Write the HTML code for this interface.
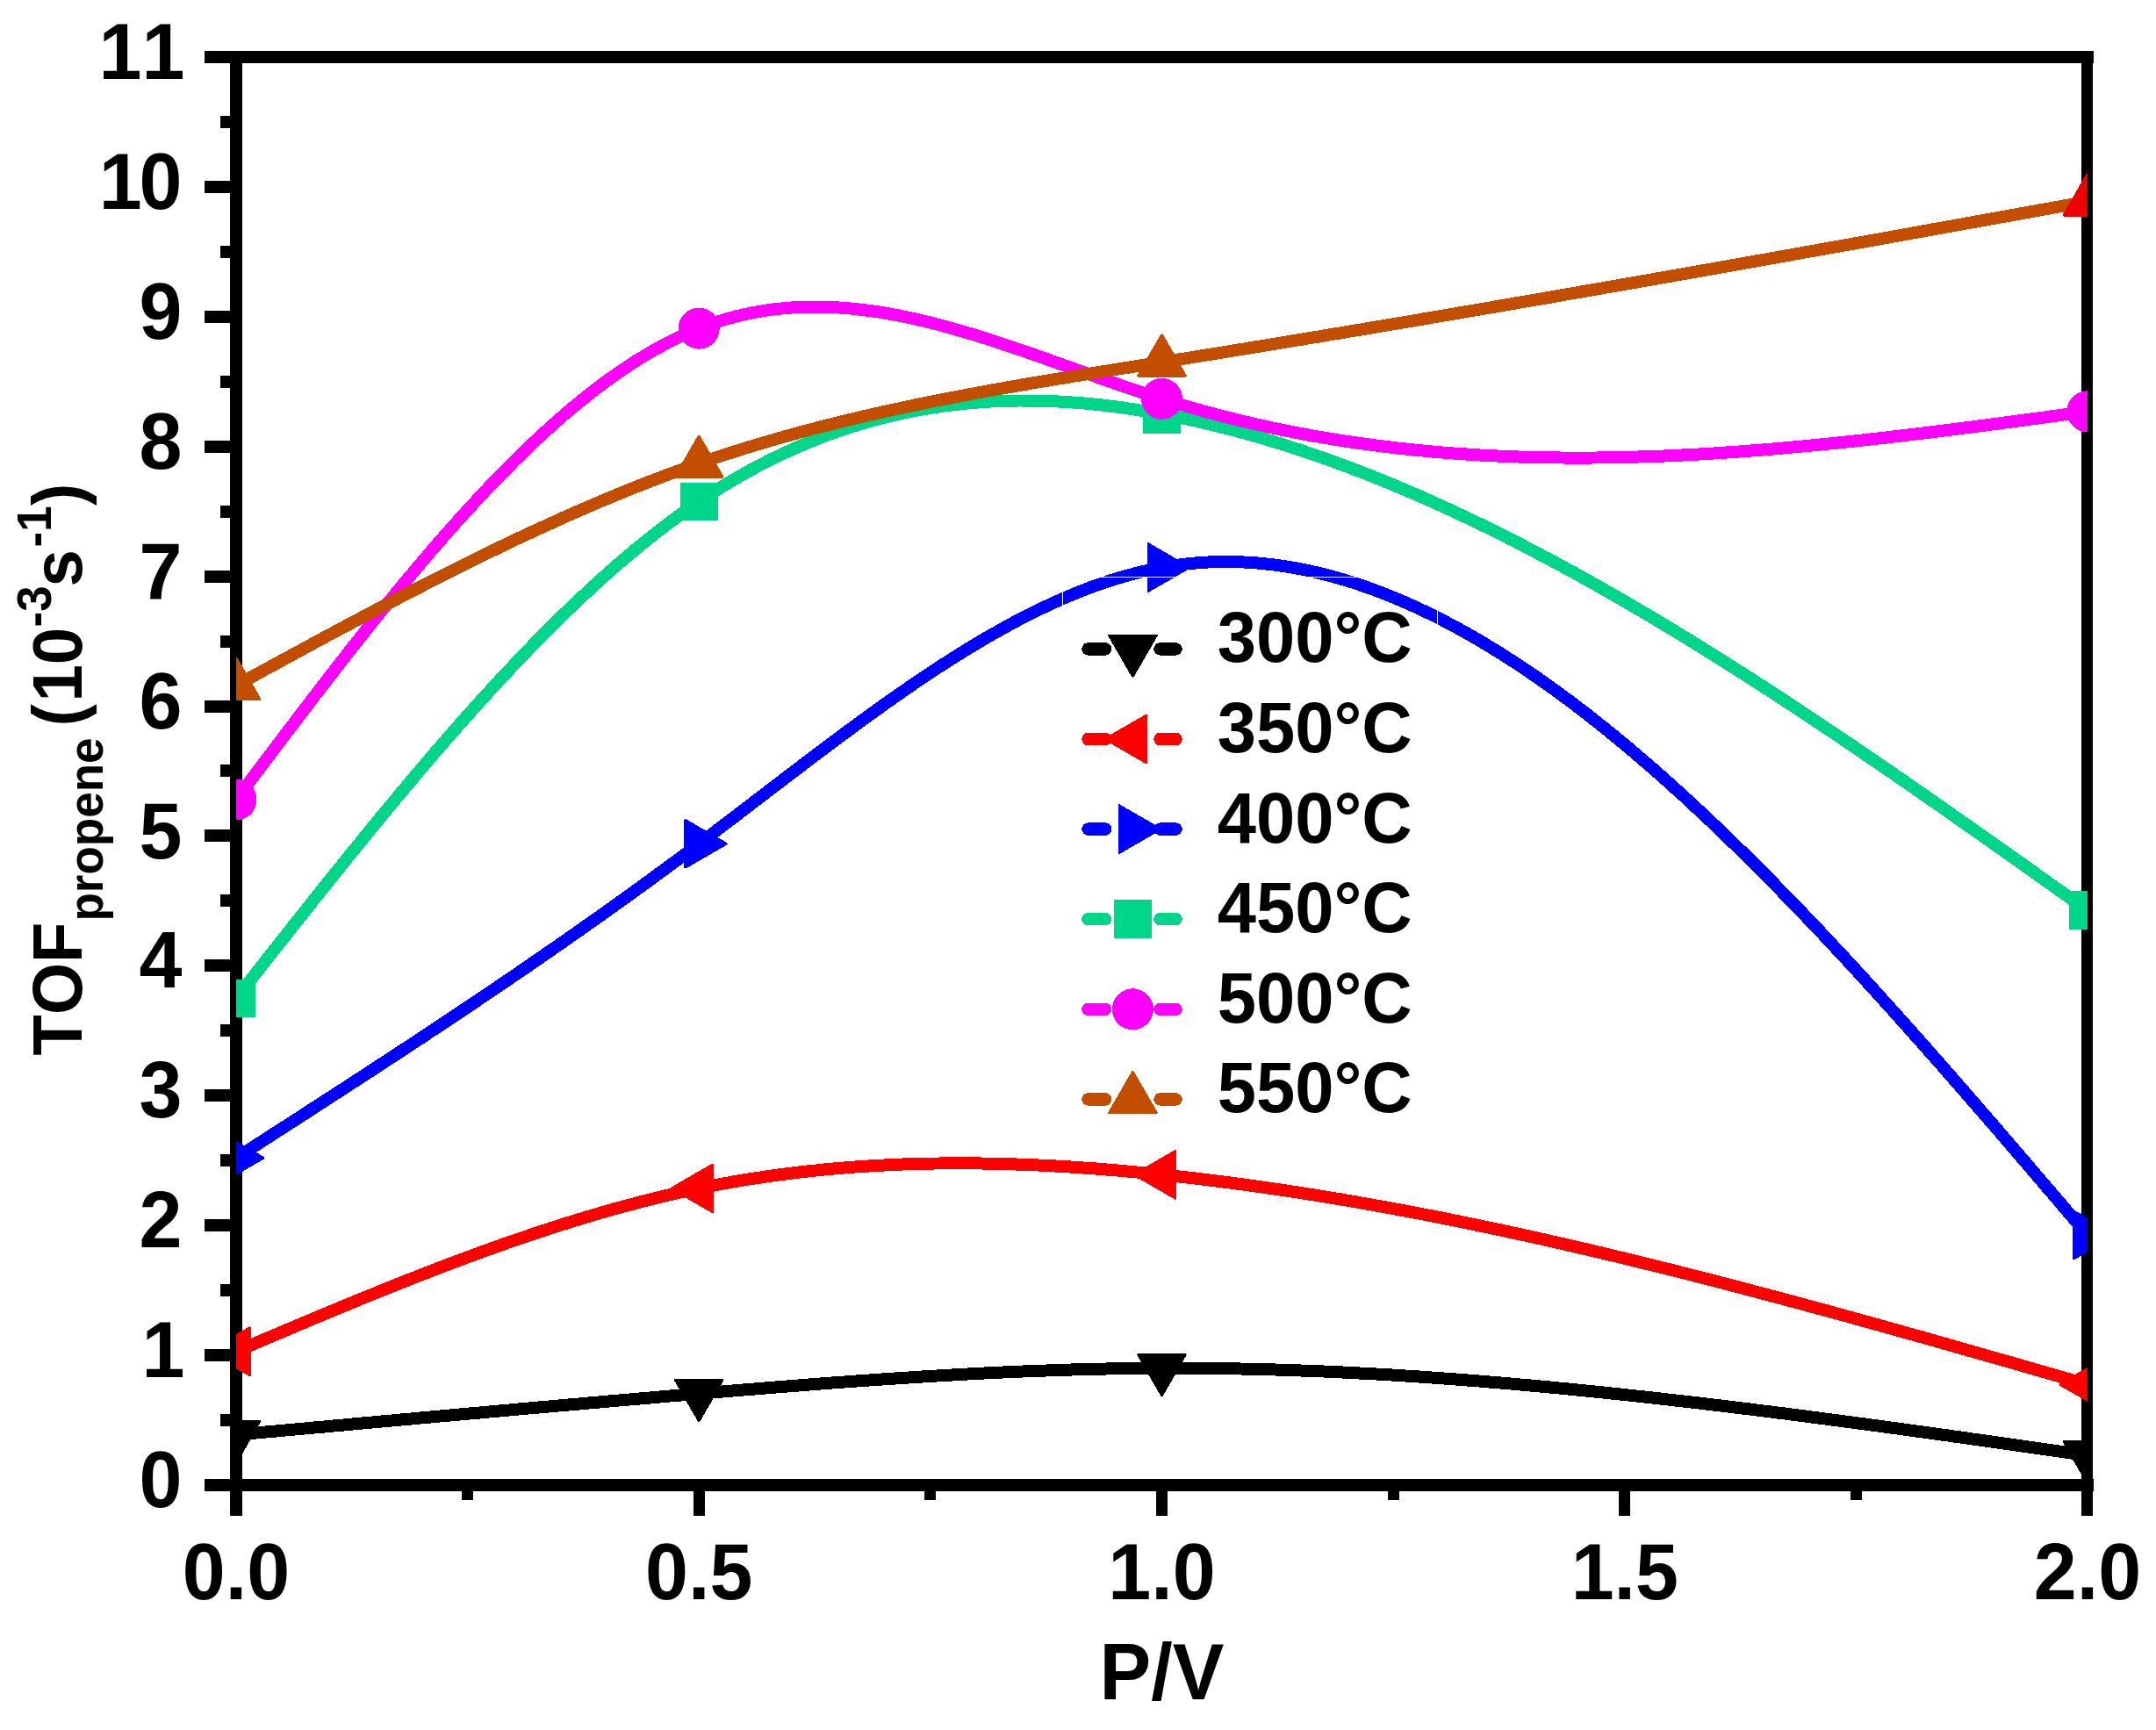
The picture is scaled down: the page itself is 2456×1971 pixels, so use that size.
<!DOCTYPE html>
<html><head><meta charset="utf-8"><title>TOF propene vs P/V</title>
<style>html,body{margin:0;padding:0;background:#fff;overflow:hidden}svg{display:block}text{font-family:"Liberation Sans",sans-serif;font-weight:bold;fill:#000;font-kerning:none}</style></head><body>
<svg width="2456" height="1971" viewBox="0 0 2456 1971">
<rect width="2456" height="1971" fill="#fff"/>
<defs><clipPath id="plot"><rect x="269" y="65" width="2109" height="1627"/></clipPath></defs>
<g fill="#000" shape-rendering="crispEdges">
<rect x="262" y="58" width="14" height="1669"/>
<rect x="2371" y="58" width="13" height="1669"/>
<rect x="233" y="58" width="2152" height="14"/>
<rect x="233" y="1685" width="2152" height="14"/>
<rect x="233" y="1685" width="30" height="14"/>
<rect x="251" y="1611" width="12" height="14"/>
<rect x="233" y="1537" width="30" height="14"/>
<rect x="251" y="1463" width="12" height="14"/>
<rect x="233" y="1389" width="30" height="14"/>
<rect x="251" y="1315" width="12" height="14"/>
<rect x="233" y="1241" width="30" height="14"/>
<rect x="251" y="1167" width="12" height="14"/>
<rect x="233" y="1093" width="30" height="14"/>
<rect x="251" y="1019" width="12" height="14"/>
<rect x="233" y="945" width="30" height="14"/>
<rect x="251" y="871" width="12" height="14"/>
<rect x="233" y="798" width="30" height="14"/>
<rect x="251" y="724" width="12" height="14"/>
<rect x="233" y="650" width="30" height="14"/>
<rect x="251" y="576" width="12" height="14"/>
<rect x="233" y="502" width="30" height="14"/>
<rect x="251" y="428" width="12" height="14"/>
<rect x="233" y="354" width="30" height="14"/>
<rect x="251" y="280" width="12" height="14"/>
<rect x="233" y="206" width="30" height="14"/>
<rect x="251" y="132" width="12" height="14"/>
<rect x="233" y="58" width="30" height="14"/>
<rect x="262" y="1698" width="13" height="29"/>
<rect x="526" y="1698" width="13" height="11"/>
<rect x="790" y="1698" width="13" height="29"/>
<rect x="1053" y="1698" width="13" height="11"/>
<rect x="1317" y="1698" width="13" height="29"/>
<rect x="1581" y="1698" width="13" height="11"/>
<rect x="1844" y="1698" width="13" height="29"/>
<rect x="2108" y="1698" width="13" height="11"/>
<rect x="2371" y="1698" width="13" height="29"/>
</g>
<g clip-path="url(#plot)" shape-rendering="crispEdges">
<path d="M269.0,1634.6 L274.3,1634.1 L279.5,1633.6 L284.8,1633.2 L290.1,1632.7 L295.4,1632.2 L300.6,1631.7 L305.9,1631.2 L311.2,1630.8 L316.5,1630.3 L321.7,1629.8 L327.0,1629.3 L332.3,1628.8 L337.5,1628.4 L342.8,1627.9 L348.1,1627.4 L353.4,1626.9 L358.6,1626.4 L363.9,1626.0 L369.2,1625.5 L374.4,1625.0 L379.7,1624.5 L385.0,1624.0 L390.3,1623.6 L395.5,1623.1 L400.8,1622.6 L406.1,1622.1 L411.4,1621.6 L416.6,1621.2 L421.9,1620.7 L427.2,1620.2 L432.4,1619.7 L437.7,1619.2 L443.0,1618.8 L448.3,1618.3 L453.5,1617.8 L458.8,1617.3 L464.1,1616.9 L469.4,1616.4 L474.6,1615.9 L479.9,1615.4 L485.2,1615.0 L490.4,1614.5 L495.7,1614.0 L501.0,1613.5 L506.3,1613.1 L511.5,1612.6 L516.8,1612.1 L522.1,1611.6 L527.4,1611.2 L532.6,1610.7 L537.9,1610.2 L543.2,1609.8 L548.4,1609.3 L553.7,1608.8 L559.0,1608.3 L564.3,1607.9 L569.5,1607.4 L574.8,1606.9 L580.1,1606.5 L585.3,1606.0 L590.6,1605.5 L595.9,1605.1 L601.2,1604.6 L606.4,1604.1 L611.7,1603.7 L617.0,1603.2 L622.3,1602.7 L627.5,1602.3 L632.8,1601.8 L638.1,1601.3 L643.3,1600.9 L648.6,1600.4 L653.9,1600.0 L659.2,1599.5 L664.4,1599.0 L669.7,1598.6 L675.0,1598.1 L680.3,1597.7 L685.5,1597.2 L690.8,1596.7 L696.1,1596.3 L701.3,1595.8 L706.6,1595.4 L711.9,1594.9 L717.2,1594.5 L722.4,1594.0 L727.7,1593.6 L733.0,1593.1 L738.3,1592.7 L743.5,1592.2 L748.8,1591.7 L754.1,1591.3 L759.3,1590.8 L764.6,1590.4 L769.9,1590.0 L775.2,1589.5 L780.4,1589.1 L785.7,1588.6 L791.0,1588.2 L796.2,1587.7 L801.5,1587.3 L806.8,1586.8 L812.1,1586.4 L817.3,1586.0 L822.6,1585.5 L827.9,1585.1 L833.2,1584.6 L838.4,1584.2 L843.7,1583.8 L849.0,1583.3 L854.2,1582.9 L859.5,1582.5 L864.8,1582.0 L870.1,1581.6 L875.3,1581.2 L880.6,1580.8 L885.9,1580.3 L891.2,1579.9 L896.4,1579.5 L901.7,1579.1 L907.0,1578.7 L912.2,1578.3 L917.5,1577.9 L922.8,1577.4 L928.1,1577.0 L933.3,1576.6 L938.6,1576.2 L943.9,1575.8 L949.2,1575.4 L954.4,1575.1 L959.7,1574.7 L965.0,1574.3 L970.2,1573.9 L975.5,1573.5 L980.8,1573.1 L986.1,1572.8 L991.3,1572.4 L996.6,1572.0 L1001.9,1571.7 L1007.2,1571.3 L1012.4,1571.0 L1017.7,1570.6 L1023.0,1570.3 L1028.2,1569.9 L1033.5,1569.6 L1038.8,1569.2 L1044.1,1568.9 L1049.3,1568.6 L1054.6,1568.2 L1059.9,1567.9 L1065.1,1567.6 L1070.4,1567.3 L1075.7,1567.0 L1081.0,1566.7 L1086.2,1566.4 L1091.5,1566.1 L1096.8,1565.8 L1102.1,1565.5 L1107.3,1565.2 L1112.6,1565.0 L1117.9,1564.7 L1123.1,1564.4 L1128.4,1564.2 L1133.7,1563.9 L1139.0,1563.7 L1144.2,1563.4 L1149.5,1563.2 L1154.8,1562.9 L1160.1,1562.7 L1165.3,1562.5 L1170.6,1562.3 L1175.9,1562.1 L1181.1,1561.8 L1186.4,1561.6 L1191.7,1561.5 L1197.0,1561.3 L1202.2,1561.1 L1207.5,1560.9 L1212.8,1560.7 L1218.1,1560.6 L1223.3,1560.4 L1228.6,1560.3 L1233.9,1560.1 L1239.1,1560.0 L1244.4,1559.9 L1249.7,1559.7 L1255.0,1559.6 L1260.2,1559.5 L1265.5,1559.4 L1270.8,1559.3 L1276.0,1559.2 L1281.3,1559.1 L1286.6,1559.1 L1291.9,1559.0 L1297.1,1558.9 L1302.4,1558.9 L1307.7,1558.8 L1313.0,1558.8 L1318.2,1558.8 L1323.5,1558.7 L1328.8,1558.7 L1334.0,1558.7 L1339.3,1558.7 L1344.6,1558.7 L1349.9,1558.7 L1355.1,1558.8 L1360.4,1558.8 L1365.7,1558.8 L1371.0,1558.9 L1376.2,1558.9 L1381.5,1559.0 L1386.8,1559.0 L1392.0,1559.1 L1397.3,1559.2 L1402.6,1559.3 L1407.9,1559.4 L1413.1,1559.5 L1418.4,1559.6 L1423.7,1559.7 L1429.0,1559.8 L1434.2,1560.0 L1439.5,1560.1 L1444.8,1560.3 L1450.0,1560.4 L1455.3,1560.6 L1460.6,1560.7 L1465.9,1560.9 L1471.1,1561.1 L1476.4,1561.3 L1481.7,1561.5 L1486.9,1561.7 L1492.2,1561.9 L1497.5,1562.1 L1502.8,1562.3 L1508.0,1562.5 L1513.3,1562.8 L1518.6,1563.0 L1523.9,1563.2 L1529.1,1563.5 L1534.4,1563.7 L1539.7,1564.0 L1544.9,1564.3 L1550.2,1564.6 L1555.5,1564.8 L1560.8,1565.1 L1566.0,1565.4 L1571.3,1565.7 L1576.6,1566.0 L1581.9,1566.3 L1587.1,1566.6 L1592.4,1567.0 L1597.7,1567.3 L1602.9,1567.6 L1608.2,1568.0 L1613.5,1568.3 L1618.8,1568.7 L1624.0,1569.0 L1629.3,1569.4 L1634.6,1569.7 L1639.9,1570.1 L1645.1,1570.5 L1650.4,1570.9 L1655.7,1571.3 L1660.9,1571.7 L1666.2,1572.1 L1671.5,1572.5 L1676.8,1572.9 L1682.0,1573.3 L1687.3,1573.7 L1692.6,1574.1 L1697.8,1574.6 L1703.1,1575.0 L1708.4,1575.4 L1713.7,1575.9 L1718.9,1576.3 L1724.2,1576.8 L1729.5,1577.3 L1734.8,1577.7 L1740.0,1578.2 L1745.3,1578.7 L1750.6,1579.1 L1755.8,1579.6 L1761.1,1580.1 L1766.4,1580.6 L1771.7,1581.1 L1776.9,1581.6 L1782.2,1582.1 L1787.5,1582.6 L1792.8,1583.1 L1798.0,1583.7 L1803.3,1584.2 L1808.6,1584.7 L1813.8,1585.2 L1819.1,1585.8 L1824.4,1586.3 L1829.7,1586.9 L1834.9,1587.4 L1840.2,1588.0 L1845.5,1588.5 L1850.8,1589.1 L1856.0,1589.6 L1861.3,1590.2 L1866.6,1590.8 L1871.8,1591.3 L1877.1,1591.9 L1882.4,1592.5 L1887.7,1593.1 L1892.9,1593.7 L1898.2,1594.3 L1903.5,1594.9 L1908.7,1595.5 L1914.0,1596.1 L1919.3,1596.7 L1924.6,1597.3 L1929.8,1597.9 L1935.1,1598.5 L1940.4,1599.1 L1945.7,1599.8 L1950.9,1600.4 L1956.2,1601.0 L1961.5,1601.7 L1966.7,1602.3 L1972.0,1602.9 L1977.3,1603.6 L1982.6,1604.2 L1987.8,1604.9 L1993.1,1605.5 L1998.4,1606.2 L2003.7,1606.8 L2008.9,1607.5 L2014.2,1608.1 L2019.5,1608.8 L2024.7,1609.5 L2030.0,1610.1 L2035.3,1610.8 L2040.6,1611.5 L2045.8,1612.2 L2051.1,1612.9 L2056.4,1613.5 L2061.6,1614.2 L2066.9,1614.9 L2072.2,1615.6 L2077.5,1616.3 L2082.7,1617.0 L2088.0,1617.7 L2093.3,1618.4 L2098.6,1619.1 L2103.8,1619.8 L2109.1,1620.5 L2114.4,1621.2 L2119.6,1621.9 L2124.9,1622.6 L2130.2,1623.3 L2135.5,1624.0 L2140.7,1624.7 L2146.0,1625.5 L2151.3,1626.2 L2156.6,1626.9 L2161.8,1627.6 L2167.1,1628.3 L2172.4,1629.1 L2177.6,1629.8 L2182.9,1630.5 L2188.2,1631.2 L2193.5,1632.0 L2198.7,1632.7 L2204.0,1633.4 L2209.3,1634.2 L2214.6,1634.9 L2219.8,1635.6 L2225.1,1636.4 L2230.4,1637.1 L2235.6,1637.9 L2240.9,1638.6 L2246.2,1639.4 L2251.5,1640.1 L2256.7,1640.8 L2262.0,1641.6 L2267.3,1642.3 L2272.6,1643.1 L2277.8,1643.8 L2283.1,1644.6 L2288.4,1645.3 L2293.6,1646.1 L2298.9,1646.8 L2304.2,1647.6 L2309.5,1648.3 L2314.7,1649.1 L2320.0,1649.8 L2325.3,1650.6 L2330.5,1651.3 L2335.8,1652.1 L2341.1,1652.8 L2346.4,1653.6 L2351.6,1654.4 L2356.9,1655.1 L2362.2,1655.9 L2367.5,1656.6 L2372.7,1657.4 L2378.0,1658.1" fill="none" stroke="#000000" stroke-width="14" stroke-linejoin="round"/>
<polygon points="242.2,1619.2 295.8,1619.2 269.0,1665.5" fill="#000000" stroke="#000000" stroke-width="3" stroke-linejoin="round"/>
<polygon points="769.5,1572.3 823.0,1572.3 796.2,1618.6" fill="#000000" stroke="#000000" stroke-width="3" stroke-linejoin="round"/>
<polygon points="1296.8,1543.3 1350.2,1543.3 1323.5,1589.6" fill="#000000" stroke="#000000" stroke-width="3" stroke-linejoin="round"/>
<polygon points="2351.2,1642.7 2404.8,1642.7 2378.0,1689.0" fill="#000000" stroke="#000000" stroke-width="3" stroke-linejoin="round"/>
<path d="M269.0,1539.7 L274.3,1537.4 L279.5,1535.2 L284.8,1532.9 L290.1,1530.7 L295.4,1528.4 L300.6,1526.2 L305.9,1524.0 L311.2,1521.7 L316.5,1519.5 L321.7,1517.3 L327.0,1515.0 L332.3,1512.8 L337.5,1510.6 L342.8,1508.4 L348.1,1506.1 L353.4,1503.9 L358.6,1501.7 L363.9,1499.5 L369.2,1497.3 L374.4,1495.1 L379.7,1492.9 L385.0,1490.7 L390.3,1488.5 L395.5,1486.4 L400.8,1484.2 L406.1,1482.0 L411.4,1479.8 L416.6,1477.7 L421.9,1475.5 L427.2,1473.4 L432.4,1471.3 L437.7,1469.1 L443.0,1467.0 L448.3,1464.9 L453.5,1462.8 L458.8,1460.7 L464.1,1458.6 L469.4,1456.5 L474.6,1454.5 L479.9,1452.4 L485.2,1450.3 L490.4,1448.3 L495.7,1446.3 L501.0,1444.2 L506.3,1442.2 L511.5,1440.2 L516.8,1438.2 L522.1,1436.2 L527.4,1434.3 L532.6,1432.3 L537.9,1430.4 L543.2,1428.4 L548.4,1426.5 L553.7,1424.6 L559.0,1422.7 L564.3,1420.8 L569.5,1418.9 L574.8,1417.1 L580.1,1415.2 L585.3,1413.4 L590.6,1411.6 L595.9,1409.8 L601.2,1408.0 L606.4,1406.2 L611.7,1404.4 L617.0,1402.7 L622.3,1401.0 L627.5,1399.2 L632.8,1397.5 L638.1,1395.9 L643.3,1394.2 L648.6,1392.5 L653.9,1390.9 L659.2,1389.3 L664.4,1387.7 L669.7,1386.1 L675.0,1384.5 L680.3,1383.0 L685.5,1381.4 L690.8,1379.9 L696.1,1378.4 L701.3,1377.0 L706.6,1375.5 L711.9,1374.1 L717.2,1372.7 L722.4,1371.3 L727.7,1369.9 L733.0,1368.5 L738.3,1367.2 L743.5,1365.9 L748.8,1364.6 L754.1,1363.3 L759.3,1362.0 L764.6,1360.8 L769.9,1359.6 L775.2,1358.4 L780.4,1357.2 L785.7,1356.1 L791.0,1355.0 L796.2,1353.9 L801.5,1352.8 L806.8,1351.8 L812.1,1350.7 L817.3,1349.7 L822.6,1348.7 L827.9,1347.8 L833.2,1346.8 L838.4,1345.9 L843.7,1345.0 L849.0,1344.1 L854.2,1343.3 L859.5,1342.5 L864.8,1341.7 L870.1,1340.9 L875.3,1340.1 L880.6,1339.4 L885.9,1338.6 L891.2,1337.9 L896.4,1337.2 L901.7,1336.6 L907.0,1335.9 L912.2,1335.3 L917.5,1334.7 L922.8,1334.1 L928.1,1333.6 L933.3,1333.0 L938.6,1332.5 L943.9,1332.0 L949.2,1331.5 L954.4,1331.1 L959.7,1330.6 L965.0,1330.2 L970.2,1329.8 L975.5,1329.4 L980.8,1329.0 L986.1,1328.7 L991.3,1328.4 L996.6,1328.0 L1001.9,1327.7 L1007.2,1327.5 L1012.4,1327.2 L1017.7,1327.0 L1023.0,1326.7 L1028.2,1326.5 L1033.5,1326.3 L1038.8,1326.2 L1044.1,1326.0 L1049.3,1325.9 L1054.6,1325.7 L1059.9,1325.6 L1065.1,1325.5 L1070.4,1325.5 L1075.7,1325.4 L1081.0,1325.4 L1086.2,1325.3 L1091.5,1325.3 L1096.8,1325.3 L1102.1,1325.4 L1107.3,1325.4 L1112.6,1325.4 L1117.9,1325.5 L1123.1,1325.6 L1128.4,1325.7 L1133.7,1325.8 L1139.0,1325.9 L1144.2,1326.0 L1149.5,1326.2 L1154.8,1326.4 L1160.1,1326.6 L1165.3,1326.7 L1170.6,1327.0 L1175.9,1327.2 L1181.1,1327.4 L1186.4,1327.7 L1191.7,1327.9 L1197.0,1328.2 L1202.2,1328.5 L1207.5,1328.8 L1212.8,1329.1 L1218.1,1329.4 L1223.3,1329.8 L1228.6,1330.1 L1233.9,1330.5 L1239.1,1330.8 L1244.4,1331.2 L1249.7,1331.6 L1255.0,1332.0 L1260.2,1332.5 L1265.5,1332.9 L1270.8,1333.3 L1276.0,1333.8 L1281.3,1334.3 L1286.6,1334.7 L1291.9,1335.2 L1297.1,1335.7 L1302.4,1336.2 L1307.7,1336.7 L1313.0,1337.3 L1318.2,1337.8 L1323.5,1338.3 L1328.8,1338.9 L1334.0,1339.5 L1339.3,1340.0 L1344.6,1340.6 L1349.9,1341.2 L1355.1,1341.8 L1360.4,1342.4 L1365.7,1343.1 L1371.0,1343.7 L1376.2,1344.3 L1381.5,1345.0 L1386.8,1345.7 L1392.0,1346.3 L1397.3,1347.0 L1402.6,1347.7 L1407.9,1348.4 L1413.1,1349.1 L1418.4,1349.8 L1423.7,1350.5 L1429.0,1351.3 L1434.2,1352.0 L1439.5,1352.7 L1444.8,1353.5 L1450.0,1354.3 L1455.3,1355.0 L1460.6,1355.8 L1465.9,1356.6 L1471.1,1357.4 L1476.4,1358.2 L1481.7,1359.0 L1486.9,1359.9 L1492.2,1360.7 L1497.5,1361.5 L1502.8,1362.4 L1508.0,1363.2 L1513.3,1364.1 L1518.6,1365.0 L1523.9,1365.8 L1529.1,1366.7 L1534.4,1367.6 L1539.7,1368.5 L1544.9,1369.4 L1550.2,1370.4 L1555.5,1371.3 L1560.8,1372.2 L1566.0,1373.2 L1571.3,1374.1 L1576.6,1375.1 L1581.9,1376.0 L1587.1,1377.0 L1592.4,1378.0 L1597.7,1379.0 L1602.9,1379.9 L1608.2,1380.9 L1613.5,1382.0 L1618.8,1383.0 L1624.0,1384.0 L1629.3,1385.0 L1634.6,1386.0 L1639.9,1387.1 L1645.1,1388.1 L1650.4,1389.2 L1655.7,1390.3 L1660.9,1391.3 L1666.2,1392.4 L1671.5,1393.5 L1676.8,1394.6 L1682.0,1395.7 L1687.3,1396.8 L1692.6,1397.9 L1697.8,1399.0 L1703.1,1400.1 L1708.4,1401.2 L1713.7,1402.3 L1718.9,1403.5 L1724.2,1404.6 L1729.5,1405.8 L1734.8,1406.9 L1740.0,1408.1 L1745.3,1409.3 L1750.6,1410.4 L1755.8,1411.6 L1761.1,1412.8 L1766.4,1414.0 L1771.7,1415.2 L1776.9,1416.4 L1782.2,1417.6 L1787.5,1418.8 L1792.8,1420.0 L1798.0,1421.2 L1803.3,1422.5 L1808.6,1423.7 L1813.8,1424.9 L1819.1,1426.2 L1824.4,1427.4 L1829.7,1428.7 L1834.9,1429.9 L1840.2,1431.2 L1845.5,1432.5 L1850.8,1433.7 L1856.0,1435.0 L1861.3,1436.3 L1866.6,1437.6 L1871.8,1438.9 L1877.1,1440.2 L1882.4,1441.5 L1887.7,1442.8 L1892.9,1444.1 L1898.2,1445.4 L1903.5,1446.7 L1908.7,1448.0 L1914.0,1449.4 L1919.3,1450.7 L1924.6,1452.0 L1929.8,1453.4 L1935.1,1454.7 L1940.4,1456.1 L1945.7,1457.4 L1950.9,1458.8 L1956.2,1460.1 L1961.5,1461.5 L1966.7,1462.9 L1972.0,1464.3 L1977.3,1465.6 L1982.6,1467.0 L1987.8,1468.4 L1993.1,1469.8 L1998.4,1471.2 L2003.7,1472.6 L2008.9,1474.0 L2014.2,1475.4 L2019.5,1476.8 L2024.7,1478.2 L2030.0,1479.6 L2035.3,1481.0 L2040.6,1482.4 L2045.8,1483.8 L2051.1,1485.2 L2056.4,1486.7 L2061.6,1488.1 L2066.9,1489.5 L2072.2,1491.0 L2077.5,1492.4 L2082.7,1493.8 L2088.0,1495.3 L2093.3,1496.7 L2098.6,1498.2 L2103.8,1499.6 L2109.1,1501.1 L2114.4,1502.5 L2119.6,1504.0 L2124.9,1505.5 L2130.2,1506.9 L2135.5,1508.4 L2140.7,1509.8 L2146.0,1511.3 L2151.3,1512.8 L2156.6,1514.3 L2161.8,1515.7 L2167.1,1517.2 L2172.4,1518.7 L2177.6,1520.2 L2182.9,1521.7 L2188.2,1523.1 L2193.5,1524.6 L2198.7,1526.1 L2204.0,1527.6 L2209.3,1529.1 L2214.6,1530.6 L2219.8,1532.1 L2225.1,1533.6 L2230.4,1535.1 L2235.6,1536.6 L2240.9,1538.1 L2246.2,1539.6 L2251.5,1541.1 L2256.7,1542.6 L2262.0,1544.1 L2267.3,1545.6 L2272.6,1547.1 L2277.8,1548.6 L2283.1,1550.1 L2288.4,1551.6 L2293.6,1553.1 L2298.9,1554.6 L2304.2,1556.2 L2309.5,1557.7 L2314.7,1559.2 L2320.0,1560.7 L2325.3,1562.2 L2330.5,1563.7 L2335.8,1565.2 L2341.1,1566.8 L2346.4,1568.3 L2351.6,1569.8 L2356.9,1571.3 L2362.2,1572.8 L2367.5,1574.3 L2372.7,1575.9 L2378.0,1577.4" fill="none" stroke="#ff0000" stroke-width="14" stroke-linejoin="round"/>
<polygon points="284.4,1512.9 284.4,1566.4 238.1,1539.7" fill="#ff0000" stroke="#ff0000" stroke-width="3" stroke-linejoin="round"/>
<polygon points="811.7,1327.1 811.7,1380.6 765.4,1353.9" fill="#ff0000" stroke="#ff0000" stroke-width="3" stroke-linejoin="round"/>
<polygon points="1338.9,1311.6 1338.9,1365.1 1292.6,1338.3" fill="#ff0000" stroke="#ff0000" stroke-width="3" stroke-linejoin="round"/>
<polygon points="2393.4,1550.6 2393.4,1604.1 2347.1,1577.4" fill="#ff0000" stroke="#ff0000" stroke-width="3" stroke-linejoin="round"/>
<path d="M269.0,1319.3 L274.3,1315.9 L279.5,1312.5 L284.8,1309.1 L290.1,1305.7 L295.4,1302.3 L300.6,1298.9 L305.9,1295.5 L311.2,1292.1 L316.5,1288.7 L321.7,1285.4 L327.0,1282.0 L332.3,1278.6 L337.5,1275.2 L342.8,1271.8 L348.1,1268.4 L353.4,1265.0 L358.6,1261.5 L363.9,1258.1 L369.2,1254.7 L374.4,1251.3 L379.7,1247.9 L385.0,1244.5 L390.3,1241.1 L395.5,1237.6 L400.8,1234.2 L406.1,1230.8 L411.4,1227.4 L416.6,1223.9 L421.9,1220.5 L427.2,1217.1 L432.4,1213.6 L437.7,1210.2 L443.0,1206.7 L448.3,1203.3 L453.5,1199.8 L458.8,1196.3 L464.1,1192.9 L469.4,1189.4 L474.6,1185.9 L479.9,1182.5 L485.2,1179.0 L490.4,1175.5 L495.7,1172.0 L501.0,1168.5 L506.3,1165.0 L511.5,1161.5 L516.8,1158.0 L522.1,1154.5 L527.4,1150.9 L532.6,1147.4 L537.9,1143.9 L543.2,1140.3 L548.4,1136.8 L553.7,1133.2 L559.0,1129.7 L564.3,1126.1 L569.5,1122.5 L574.8,1119.0 L580.1,1115.4 L585.3,1111.8 L590.6,1108.2 L595.9,1104.6 L601.2,1101.0 L606.4,1097.3 L611.7,1093.7 L617.0,1090.1 L622.3,1086.4 L627.5,1082.8 L632.8,1079.1 L638.1,1075.5 L643.3,1071.8 L648.6,1068.1 L653.9,1064.4 L659.2,1060.7 L664.4,1057.0 L669.7,1053.3 L675.0,1049.6 L680.3,1045.9 L685.5,1042.1 L690.8,1038.4 L696.1,1034.6 L701.3,1030.8 L706.6,1027.1 L711.9,1023.3 L717.2,1019.5 L722.4,1015.7 L727.7,1011.9 L733.0,1008.0 L738.3,1004.2 L743.5,1000.4 L748.8,996.5 L754.1,992.6 L759.3,988.8 L764.6,984.9 L769.9,981.0 L775.2,977.1 L780.4,973.2 L785.7,969.2 L791.0,965.3 L796.2,961.3 L801.5,957.4 L806.8,953.4 L812.1,949.4 L817.3,945.4 L822.6,941.4 L827.9,937.4 L833.2,933.4 L838.4,929.4 L843.7,925.3 L849.0,921.3 L854.2,917.3 L859.5,913.2 L864.8,909.2 L870.1,905.2 L875.3,901.1 L880.6,897.1 L885.9,893.1 L891.2,889.0 L896.4,885.0 L901.7,881.0 L907.0,877.0 L912.2,873.0 L917.5,869.0 L922.8,865.0 L928.1,861.0 L933.3,857.0 L938.6,853.0 L943.9,849.1 L949.2,845.1 L954.4,841.2 L959.7,837.3 L965.0,833.4 L970.2,829.5 L975.5,825.6 L980.8,821.7 L986.1,817.9 L991.3,814.1 L996.6,810.3 L1001.9,806.5 L1007.2,802.7 L1012.4,799.0 L1017.7,795.3 L1023.0,791.6 L1028.2,787.9 L1033.5,784.3 L1038.8,780.6 L1044.1,777.0 L1049.3,773.5 L1054.6,769.9 L1059.9,766.4 L1065.1,763.0 L1070.4,759.5 L1075.7,756.1 L1081.0,752.7 L1086.2,749.4 L1091.5,746.1 L1096.8,742.8 L1102.1,739.5 L1107.3,736.3 L1112.6,733.2 L1117.9,730.0 L1123.1,726.9 L1128.4,723.9 L1133.7,720.9 L1139.0,717.9 L1144.2,715.0 L1149.5,712.1 L1154.8,709.2 L1160.1,706.4 L1165.3,703.7 L1170.6,701.0 L1175.9,698.3 L1181.1,695.7 L1186.4,693.2 L1191.7,690.7 L1197.0,688.2 L1202.2,685.8 L1207.5,683.4 L1212.8,681.1 L1218.1,678.9 L1223.3,676.7 L1228.6,674.6 L1233.9,672.5 L1239.1,670.5 L1244.4,668.5 L1249.7,666.6 L1255.0,664.8 L1260.2,663.0 L1265.5,661.2 L1270.8,659.6 L1276.0,658.0 L1281.3,656.5 L1286.6,655.0 L1291.9,653.6 L1297.1,652.2 L1302.4,651.0 L1307.7,649.8 L1313.0,648.6 L1318.2,647.6 L1323.5,646.6 L1328.8,645.7 L1334.0,644.8 L1339.3,644.0 L1344.6,643.3 L1349.9,642.7 L1355.1,642.1 L1360.4,641.6 L1365.7,641.2 L1371.0,640.8 L1376.2,640.5 L1381.5,640.3 L1386.8,640.1 L1392.0,640.0 L1397.3,640.0 L1402.6,640.0 L1407.9,640.2 L1413.1,640.3 L1418.4,640.6 L1423.7,640.9 L1429.0,641.2 L1434.2,641.7 L1439.5,642.2 L1444.8,642.7 L1450.0,643.3 L1455.3,644.0 L1460.6,644.8 L1465.9,645.6 L1471.1,646.5 L1476.4,647.4 L1481.7,648.4 L1486.9,649.4 L1492.2,650.5 L1497.5,651.7 L1502.8,653.0 L1508.0,654.2 L1513.3,655.6 L1518.6,657.0 L1523.9,658.5 L1529.1,660.0 L1534.4,661.6 L1539.7,663.2 L1544.9,664.9 L1550.2,666.7 L1555.5,668.5 L1560.8,670.4 L1566.0,672.3 L1571.3,674.3 L1576.6,676.3 L1581.9,678.4 L1587.1,680.5 L1592.4,682.7 L1597.7,685.0 L1602.9,687.3 L1608.2,689.6 L1613.5,692.0 L1618.8,694.5 L1624.0,697.0 L1629.3,699.5 L1634.6,702.1 L1639.9,704.8 L1645.1,707.5 L1650.4,710.3 L1655.7,713.1 L1660.9,715.9 L1666.2,718.8 L1671.5,721.8 L1676.8,724.8 L1682.0,727.8 L1687.3,730.9 L1692.6,734.1 L1697.8,737.3 L1703.1,740.5 L1708.4,743.8 L1713.7,747.1 L1718.9,750.5 L1724.2,753.9 L1729.5,757.3 L1734.8,760.8 L1740.0,764.4 L1745.3,768.0 L1750.6,771.6 L1755.8,775.3 L1761.1,779.0 L1766.4,782.8 L1771.7,786.6 L1776.9,790.4 L1782.2,794.3 L1787.5,798.2 L1792.8,802.2 L1798.0,806.2 L1803.3,810.2 L1808.6,814.3 L1813.8,818.4 L1819.1,822.6 L1824.4,826.8 L1829.7,831.0 L1834.9,835.3 L1840.2,839.6 L1845.5,843.9 L1850.8,848.3 L1856.0,852.7 L1861.3,857.2 L1866.6,861.7 L1871.8,866.2 L1877.1,870.7 L1882.4,875.3 L1887.7,879.9 L1892.9,884.6 L1898.2,889.3 L1903.5,894.0 L1908.7,898.8 L1914.0,903.5 L1919.3,908.3 L1924.6,913.2 L1929.8,918.1 L1935.1,923.0 L1940.4,927.9 L1945.7,932.9 L1950.9,937.9 L1956.2,942.9 L1961.5,948.0 L1966.7,953.0 L1972.0,958.2 L1977.3,963.3 L1982.6,968.5 L1987.8,973.6 L1993.1,978.9 L1998.4,984.1 L2003.7,989.4 L2008.9,994.7 L2014.2,1000.0 L2019.5,1005.3 L2024.7,1010.7 L2030.0,1016.1 L2035.3,1021.5 L2040.6,1026.9 L2045.8,1032.4 L2051.1,1037.9 L2056.4,1043.4 L2061.6,1048.9 L2066.9,1054.5 L2072.2,1060.0 L2077.5,1065.6 L2082.7,1071.3 L2088.0,1076.9 L2093.3,1082.5 L2098.6,1088.2 L2103.8,1093.9 L2109.1,1099.6 L2114.4,1105.3 L2119.6,1111.1 L2124.9,1116.8 L2130.2,1122.6 L2135.5,1128.4 L2140.7,1134.2 L2146.0,1140.1 L2151.3,1145.9 L2156.6,1151.8 L2161.8,1157.6 L2167.1,1163.5 L2172.4,1169.4 L2177.6,1175.3 L2182.9,1181.3 L2188.2,1187.2 L2193.5,1193.2 L2198.7,1199.1 L2204.0,1205.1 L2209.3,1211.1 L2214.6,1217.1 L2219.8,1223.1 L2225.1,1229.2 L2230.4,1235.2 L2235.6,1241.2 L2240.9,1247.3 L2246.2,1253.4 L2251.5,1259.4 L2256.7,1265.5 L2262.0,1271.6 L2267.3,1277.7 L2272.6,1283.8 L2277.8,1289.9 L2283.1,1296.1 L2288.4,1302.2 L2293.6,1308.3 L2298.9,1314.5 L2304.2,1320.6 L2309.5,1326.7 L2314.7,1332.9 L2320.0,1339.1 L2325.3,1345.2 L2330.5,1351.4 L2335.8,1357.6 L2341.1,1363.7 L2346.4,1369.9 L2351.6,1376.1 L2356.9,1382.3 L2362.2,1388.4 L2367.5,1394.6 L2372.7,1400.8 L2378.0,1407.0" fill="none" stroke="#0000ff" stroke-width="14" stroke-linejoin="round"/>
<polygon points="253.6,1292.5 253.6,1346.0 299.9,1319.3" fill="#0000ff" stroke="#0000ff" stroke-width="3" stroke-linejoin="round"/>
<polygon points="780.8,934.6 780.8,988.1 827.1,961.3" fill="#0000ff" stroke="#0000ff" stroke-width="3" stroke-linejoin="round"/>
<polygon points="1308.1,619.8 1308.1,673.3 1354.4,646.6" fill="#0000ff" stroke="#0000ff" stroke-width="3" stroke-linejoin="round"/>
<polygon points="2362.6,1380.2 2362.6,1433.7 2408.9,1407.0" fill="#0000ff" stroke="#0000ff" stroke-width="3" stroke-linejoin="round"/>
<path d="M269.0,1137.3 L274.3,1130.6 L279.5,1123.9 L284.8,1117.2 L290.1,1110.5 L295.4,1103.8 L300.6,1097.1 L305.9,1090.4 L311.2,1083.7 L316.5,1077.0 L321.7,1070.4 L327.0,1063.7 L332.3,1057.0 L337.5,1050.4 L342.8,1043.7 L348.1,1037.1 L353.4,1030.4 L358.6,1023.8 L363.9,1017.2 L369.2,1010.6 L374.4,1004.0 L379.7,997.4 L385.0,990.9 L390.3,984.3 L395.5,977.8 L400.8,971.3 L406.1,964.8 L411.4,958.3 L416.6,951.8 L421.9,945.3 L427.2,938.9 L432.4,932.5 L437.7,926.1 L443.0,919.7 L448.3,913.4 L453.5,907.0 L458.8,900.7 L464.1,894.4 L469.4,888.2 L474.6,881.9 L479.9,875.7 L485.2,869.5 L490.4,863.3 L495.7,857.2 L501.0,851.1 L506.3,845.0 L511.5,838.9 L516.8,832.9 L522.1,826.9 L527.4,821.0 L532.6,815.0 L537.9,809.1 L543.2,803.2 L548.4,797.4 L553.7,791.6 L559.0,785.8 L564.3,780.1 L569.5,774.4 L574.8,768.7 L580.1,763.1 L585.3,757.5 L590.6,751.9 L595.9,746.4 L601.2,740.9 L606.4,735.5 L611.7,730.1 L617.0,724.7 L622.3,719.4 L627.5,714.1 L632.8,708.9 L638.1,703.7 L643.3,698.6 L648.6,693.5 L653.9,688.4 L659.2,683.4 L664.4,678.5 L669.7,673.6 L675.0,668.7 L680.3,663.9 L685.5,659.1 L690.8,654.4 L696.1,649.7 L701.3,645.1 L706.6,640.5 L711.9,636.0 L717.2,631.6 L722.4,627.2 L727.7,622.8 L733.0,618.5 L738.3,614.3 L743.5,610.1 L748.8,605.9 L754.1,601.9 L759.3,597.9 L764.6,593.9 L769.9,590.0 L775.2,586.2 L780.4,582.4 L785.7,578.7 L791.0,575.0 L796.2,571.4 L801.5,567.9 L806.8,564.4 L812.1,561.0 L817.3,557.7 L822.6,554.4 L827.9,551.2 L833.2,548.0 L838.4,545.0 L843.7,541.9 L849.0,538.9 L854.2,536.0 L859.5,533.2 L864.8,530.4 L870.1,527.6 L875.3,524.9 L880.6,522.3 L885.9,519.7 L891.2,517.2 L896.4,514.8 L901.7,512.4 L907.0,510.0 L912.2,507.8 L917.5,505.5 L922.8,503.4 L928.1,501.2 L933.3,499.2 L938.6,497.1 L943.9,495.2 L949.2,493.3 L954.4,491.4 L959.7,489.6 L965.0,487.9 L970.2,486.2 L975.5,484.5 L980.8,482.9 L986.1,481.4 L991.3,479.9 L996.6,478.5 L1001.9,477.1 L1007.2,475.7 L1012.4,474.4 L1017.7,473.2 L1023.0,472.0 L1028.2,470.8 L1033.5,469.7 L1038.8,468.7 L1044.1,467.6 L1049.3,466.7 L1054.6,465.8 L1059.9,464.9 L1065.1,464.1 L1070.4,463.3 L1075.7,462.5 L1081.0,461.8 L1086.2,461.2 L1091.5,460.6 L1096.8,460.0 L1102.1,459.5 L1107.3,459.0 L1112.6,458.6 L1117.9,458.2 L1123.1,457.8 L1128.4,457.5 L1133.7,457.3 L1139.0,457.0 L1144.2,456.9 L1149.5,456.7 L1154.8,456.6 L1160.1,456.5 L1165.3,456.5 L1170.6,456.5 L1175.9,456.5 L1181.1,456.6 L1186.4,456.7 L1191.7,456.9 L1197.0,457.1 L1202.2,457.3 L1207.5,457.6 L1212.8,457.9 L1218.1,458.2 L1223.3,458.6 L1228.6,459.0 L1233.9,459.4 L1239.1,459.9 L1244.4,460.4 L1249.7,460.9 L1255.0,461.5 L1260.2,462.1 L1265.5,462.8 L1270.8,463.4 L1276.0,464.1 L1281.3,464.8 L1286.6,465.6 L1291.9,466.4 L1297.1,467.2 L1302.4,468.1 L1307.7,468.9 L1313.0,469.9 L1318.2,470.8 L1323.5,471.8 L1328.8,472.7 L1334.0,473.8 L1339.3,474.8 L1344.6,475.9 L1349.9,477.0 L1355.1,478.1 L1360.4,479.3 L1365.7,480.4 L1371.0,481.7 L1376.2,482.9 L1381.5,484.2 L1386.8,485.4 L1392.0,486.8 L1397.3,488.1 L1402.6,489.5 L1407.9,490.9 L1413.1,492.3 L1418.4,493.7 L1423.7,495.2 L1429.0,496.7 L1434.2,498.2 L1439.5,499.7 L1444.8,501.3 L1450.0,502.9 L1455.3,504.5 L1460.6,506.1 L1465.9,507.8 L1471.1,509.5 L1476.4,511.2 L1481.7,512.9 L1486.9,514.7 L1492.2,516.5 L1497.5,518.3 L1502.8,520.1 L1508.0,522.0 L1513.3,523.8 L1518.6,525.7 L1523.9,527.7 L1529.1,529.6 L1534.4,531.6 L1539.7,533.6 L1544.9,535.6 L1550.2,537.6 L1555.5,539.7 L1560.8,541.7 L1566.0,543.8 L1571.3,545.9 L1576.6,548.1 L1581.9,550.2 L1587.1,552.4 L1592.4,554.6 L1597.7,556.9 L1602.9,559.1 L1608.2,561.4 L1613.5,563.6 L1618.8,565.9 L1624.0,568.3 L1629.3,570.6 L1634.6,573.0 L1639.9,575.4 L1645.1,577.8 L1650.4,580.2 L1655.7,582.6 L1660.9,585.1 L1666.2,587.6 L1671.5,590.1 L1676.8,592.6 L1682.0,595.1 L1687.3,597.7 L1692.6,600.2 L1697.8,602.8 L1703.1,605.4 L1708.4,608.1 L1713.7,610.7 L1718.9,613.4 L1724.2,616.0 L1729.5,618.7 L1734.8,621.4 L1740.0,624.2 L1745.3,626.9 L1750.6,629.7 L1755.8,632.5 L1761.1,635.2 L1766.4,638.1 L1771.7,640.9 L1776.9,643.7 L1782.2,646.6 L1787.5,649.5 L1792.8,652.3 L1798.0,655.3 L1803.3,658.2 L1808.6,661.1 L1813.8,664.1 L1819.1,667.0 L1824.4,670.0 L1829.7,673.0 L1834.9,676.0 L1840.2,679.0 L1845.5,682.1 L1850.8,685.1 L1856.0,688.2 L1861.3,691.3 L1866.6,694.4 L1871.8,697.5 L1877.1,700.6 L1882.4,703.7 L1887.7,706.9 L1892.9,710.0 L1898.2,713.2 L1903.5,716.4 L1908.7,719.6 L1914.0,722.8 L1919.3,726.0 L1924.6,729.2 L1929.8,732.5 L1935.1,735.7 L1940.4,739.0 L1945.7,742.3 L1950.9,745.6 L1956.2,748.9 L1961.5,752.2 L1966.7,755.5 L1972.0,758.9 L1977.3,762.2 L1982.6,765.6 L1987.8,768.9 L1993.1,772.3 L1998.4,775.7 L2003.7,779.1 L2008.9,782.5 L2014.2,785.9 L2019.5,789.3 L2024.7,792.8 L2030.0,796.2 L2035.3,799.7 L2040.6,803.1 L2045.8,806.6 L2051.1,810.1 L2056.4,813.6 L2061.6,817.1 L2066.9,820.6 L2072.2,824.1 L2077.5,827.6 L2082.7,831.2 L2088.0,834.7 L2093.3,838.2 L2098.6,841.8 L2103.8,845.4 L2109.1,848.9 L2114.4,852.5 L2119.6,856.1 L2124.9,859.7 L2130.2,863.3 L2135.5,866.9 L2140.7,870.5 L2146.0,874.1 L2151.3,877.7 L2156.6,881.3 L2161.8,885.0 L2167.1,888.6 L2172.4,892.2 L2177.6,895.9 L2182.9,899.6 L2188.2,903.2 L2193.5,906.9 L2198.7,910.5 L2204.0,914.2 L2209.3,917.9 L2214.6,921.6 L2219.8,925.3 L2225.1,929.0 L2230.4,932.7 L2235.6,936.4 L2240.9,940.1 L2246.2,943.8 L2251.5,947.5 L2256.7,951.2 L2262.0,954.9 L2267.3,958.6 L2272.6,962.4 L2277.8,966.1 L2283.1,969.8 L2288.4,973.5 L2293.6,977.3 L2298.9,981.0 L2304.2,984.7 L2309.5,988.5 L2314.7,992.2 L2320.0,996.0 L2325.3,999.7 L2330.5,1003.5 L2335.8,1007.2 L2341.1,1011.0 L2346.4,1014.7 L2351.6,1018.4 L2356.9,1022.2 L2362.2,1026.0 L2367.5,1029.7 L2372.7,1033.5 L2378.0,1037.2" fill="none" stroke="#00d68a" stroke-width="14" stroke-linejoin="round"/>
<rect x="247.5" y="1115.59" width="43.0" height="43.5" fill="#00d68a"/>
<rect x="774.8" y="549.69" width="43.0" height="43.5" fill="#00d68a"/>
<rect x="1302.0" y="450.00" width="43.0" height="43.5" fill="#00d68a"/>
<rect x="2356.5" y="1015.46" width="43.0" height="43.5" fill="#00d68a"/>
<path d="M269.0,911.0 L274.3,904.0 L279.5,897.0 L284.8,890.0 L290.1,883.0 L295.4,876.0 L300.6,869.0 L305.9,862.0 L311.2,855.0 L316.5,848.1 L321.7,841.1 L327.0,834.1 L332.3,827.2 L337.5,820.3 L342.8,813.3 L348.1,806.4 L353.4,799.5 L358.6,792.7 L363.9,785.8 L369.2,779.0 L374.4,772.1 L379.7,765.3 L385.0,758.5 L390.3,751.8 L395.5,745.0 L400.8,738.3 L406.1,731.6 L411.4,725.0 L416.6,718.3 L421.9,711.7 L427.2,705.1 L432.4,698.6 L437.7,692.1 L443.0,685.6 L448.3,679.1 L453.5,672.7 L458.8,666.3 L464.1,659.9 L469.4,653.6 L474.6,647.3 L479.9,641.1 L485.2,634.9 L490.4,628.7 L495.7,622.6 L501.0,616.5 L506.3,610.5 L511.5,604.5 L516.8,598.6 L522.1,592.7 L527.4,586.8 L532.6,581.0 L537.9,575.3 L543.2,569.6 L548.4,563.9 L553.7,558.3 L559.0,552.8 L564.3,547.3 L569.5,541.8 L574.8,536.4 L580.1,531.1 L585.3,525.8 L590.6,520.6 L595.9,515.5 L601.2,510.4 L606.4,505.4 L611.7,500.4 L617.0,495.5 L622.3,490.7 L627.5,485.9 L632.8,481.2 L638.1,476.6 L643.3,472.0 L648.6,467.5 L653.9,463.1 L659.2,458.8 L664.4,454.5 L669.7,450.3 L675.0,446.1 L680.3,442.1 L685.5,438.1 L690.8,434.2 L696.1,430.4 L701.3,426.7 L706.6,423.0 L711.9,419.4 L717.2,415.9 L722.4,412.5 L727.7,409.2 L733.0,406.0 L738.3,402.8 L743.5,399.7 L748.8,396.8 L754.1,393.9 L759.3,391.1 L764.6,388.4 L769.9,385.8 L775.2,383.2 L780.4,380.8 L785.7,378.5 L791.0,376.3 L796.2,374.1 L801.5,372.1 L806.8,370.2 L812.1,368.3 L817.3,366.6 L822.6,364.9 L827.9,363.3 L833.2,361.9 L838.4,360.5 L843.7,359.2 L849.0,358.0 L854.2,356.9 L859.5,355.8 L864.8,354.9 L870.1,354.0 L875.3,353.2 L880.6,352.5 L885.9,351.9 L891.2,351.4 L896.4,350.9 L901.7,350.5 L907.0,350.2 L912.2,349.9 L917.5,349.7 L922.8,349.6 L928.1,349.6 L933.3,349.6 L938.6,349.7 L943.9,349.9 L949.2,350.1 L954.4,350.4 L959.7,350.8 L965.0,351.2 L970.2,351.6 L975.5,352.2 L980.8,352.8 L986.1,353.4 L991.3,354.1 L996.6,354.8 L1001.9,355.6 L1007.2,356.5 L1012.4,357.4 L1017.7,358.3 L1023.0,359.3 L1028.2,360.4 L1033.5,361.5 L1038.8,362.6 L1044.1,363.8 L1049.3,365.0 L1054.6,366.3 L1059.9,367.5 L1065.1,368.9 L1070.4,370.2 L1075.7,371.6 L1081.0,373.1 L1086.2,374.6 L1091.5,376.1 L1096.8,377.6 L1102.1,379.1 L1107.3,380.7 L1112.6,382.3 L1117.9,384.0 L1123.1,385.6 L1128.4,387.3 L1133.7,389.0 L1139.0,390.8 L1144.2,392.5 L1149.5,394.3 L1154.8,396.0 L1160.1,397.8 L1165.3,399.6 L1170.6,401.5 L1175.9,403.3 L1181.1,405.1 L1186.4,407.0 L1191.7,408.9 L1197.0,410.7 L1202.2,412.6 L1207.5,414.5 L1212.8,416.4 L1218.1,418.2 L1223.3,420.1 L1228.6,422.0 L1233.9,423.9 L1239.1,425.8 L1244.4,427.7 L1249.7,429.5 L1255.0,431.4 L1260.2,433.2 L1265.5,435.1 L1270.8,436.9 L1276.0,438.7 L1281.3,440.6 L1286.6,442.4 L1291.9,444.1 L1297.1,445.9 L1302.4,447.7 L1307.7,449.4 L1313.0,451.1 L1318.2,452.8 L1323.5,454.4 L1328.8,456.1 L1334.0,457.7 L1339.3,459.3 L1344.6,460.9 L1349.9,462.4 L1355.1,463.9 L1360.4,465.4 L1365.7,466.9 L1371.0,468.4 L1376.2,469.8 L1381.5,471.2 L1386.8,472.6 L1392.0,474.0 L1397.3,475.3 L1402.6,476.7 L1407.9,478.0 L1413.1,479.2 L1418.4,480.5 L1423.7,481.7 L1429.0,482.9 L1434.2,484.1 L1439.5,485.3 L1444.8,486.4 L1450.0,487.6 L1455.3,488.7 L1460.6,489.8 L1465.9,490.8 L1471.1,491.9 L1476.4,492.9 L1481.7,493.9 L1486.9,494.9 L1492.2,495.9 L1497.5,496.8 L1502.8,497.7 L1508.0,498.6 L1513.3,499.5 L1518.6,500.4 L1523.9,501.2 L1529.1,502.1 L1534.4,502.9 L1539.7,503.7 L1544.9,504.4 L1550.2,505.2 L1555.5,505.9 L1560.8,506.6 L1566.0,507.3 L1571.3,508.0 L1576.6,508.7 L1581.9,509.3 L1587.1,509.9 L1592.4,510.6 L1597.7,511.1 L1602.9,511.7 L1608.2,512.3 L1613.5,512.8 L1618.8,513.3 L1624.0,513.8 L1629.3,514.3 L1634.6,514.8 L1639.9,515.2 L1645.1,515.7 L1650.4,516.1 L1655.7,516.5 L1660.9,516.9 L1666.2,517.2 L1671.5,517.6 L1676.8,517.9 L1682.0,518.3 L1687.3,518.6 L1692.6,518.9 L1697.8,519.1 L1703.1,519.4 L1708.4,519.6 L1713.7,519.9 L1718.9,520.1 L1724.2,520.3 L1729.5,520.5 L1734.8,520.6 L1740.0,520.8 L1745.3,520.9 L1750.6,521.1 L1755.8,521.2 L1761.1,521.3 L1766.4,521.4 L1771.7,521.4 L1776.9,521.5 L1782.2,521.5 L1787.5,521.6 L1792.8,521.6 L1798.0,521.6 L1803.3,521.6 L1808.6,521.6 L1813.8,521.5 L1819.1,521.5 L1824.4,521.4 L1829.7,521.4 L1834.9,521.3 L1840.2,521.2 L1845.5,521.1 L1850.8,521.0 L1856.0,520.8 L1861.3,520.7 L1866.6,520.5 L1871.8,520.4 L1877.1,520.2 L1882.4,520.0 L1887.7,519.8 L1892.9,519.6 L1898.2,519.4 L1903.5,519.1 L1908.7,518.9 L1914.0,518.6 L1919.3,518.4 L1924.6,518.1 L1929.8,517.8 L1935.1,517.5 L1940.4,517.2 L1945.7,516.9 L1950.9,516.6 L1956.2,516.2 L1961.5,515.9 L1966.7,515.5 L1972.0,515.2 L1977.3,514.8 L1982.6,514.4 L1987.8,514.0 L1993.1,513.6 L1998.4,513.2 L2003.7,512.8 L2008.9,512.4 L2014.2,511.9 L2019.5,511.5 L2024.7,511.0 L2030.0,510.6 L2035.3,510.1 L2040.6,509.6 L2045.8,509.2 L2051.1,508.7 L2056.4,508.2 L2061.6,507.7 L2066.9,507.2 L2072.2,506.7 L2077.5,506.1 L2082.7,505.6 L2088.0,505.1 L2093.3,504.5 L2098.6,504.0 L2103.8,503.4 L2109.1,502.9 L2114.4,502.3 L2119.6,501.7 L2124.9,501.1 L2130.2,500.5 L2135.5,500.0 L2140.7,499.4 L2146.0,498.8 L2151.3,498.2 L2156.6,497.5 L2161.8,496.9 L2167.1,496.3 L2172.4,495.7 L2177.6,495.0 L2182.9,494.4 L2188.2,493.8 L2193.5,493.1 L2198.7,492.5 L2204.0,491.8 L2209.3,491.2 L2214.6,490.5 L2219.8,489.8 L2225.1,489.2 L2230.4,488.5 L2235.6,487.8 L2240.9,487.1 L2246.2,486.5 L2251.5,485.8 L2256.7,485.1 L2262.0,484.4 L2267.3,483.7 L2272.6,483.0 L2277.8,482.3 L2283.1,481.6 L2288.4,480.9 L2293.6,480.2 L2298.9,479.5 L2304.2,478.8 L2309.5,478.1 L2314.7,477.4 L2320.0,476.7 L2325.3,476.0 L2330.5,475.3 L2335.8,474.5 L2341.1,473.8 L2346.4,473.1 L2351.6,472.4 L2356.9,471.7 L2362.2,470.9 L2367.5,470.2 L2372.7,469.5 L2378.0,468.8" fill="none" stroke="#ff00ff" stroke-width="14" stroke-linejoin="round"/>
<circle cx="269.0" cy="911.0" r="23.5" fill="#ff00ff"/>
<circle cx="796.2" cy="374.1" r="23.5" fill="#ff00ff"/>
<circle cx="1323.5" cy="454.4" r="23.5" fill="#ff00ff"/>
<circle cx="2378.0" cy="468.8" r="23.5" fill="#ff00ff"/>
<path d="M269.0,780.9 L274.3,778.0 L279.5,775.1 L284.8,772.2 L290.1,769.4 L295.4,766.5 L300.6,763.6 L305.9,760.7 L311.2,757.9 L316.5,755.0 L321.7,752.1 L327.0,749.3 L332.3,746.4 L337.5,743.5 L342.8,740.7 L348.1,737.8 L353.4,735.0 L358.6,732.1 L363.9,729.3 L369.2,726.4 L374.4,723.6 L379.7,720.8 L385.0,717.9 L390.3,715.1 L395.5,712.3 L400.8,709.5 L406.1,706.7 L411.4,703.9 L416.6,701.1 L421.9,698.3 L427.2,695.5 L432.4,692.7 L437.7,689.9 L443.0,687.2 L448.3,684.4 L453.5,681.7 L458.8,678.9 L464.1,676.2 L469.4,673.4 L474.6,670.7 L479.9,668.0 L485.2,665.3 L490.4,662.6 L495.7,659.9 L501.0,657.2 L506.3,654.6 L511.5,651.9 L516.8,649.2 L522.1,646.6 L527.4,644.0 L532.6,641.4 L537.9,638.7 L543.2,636.1 L548.4,633.5 L553.7,631.0 L559.0,628.4 L564.3,625.8 L569.5,623.3 L574.8,620.8 L580.1,618.3 L585.3,615.7 L590.6,613.2 L595.9,610.8 L601.2,608.3 L606.4,605.8 L611.7,603.4 L617.0,601.0 L622.3,598.6 L627.5,596.2 L632.8,593.8 L638.1,591.4 L643.3,589.0 L648.6,586.7 L653.9,584.4 L659.2,582.1 L664.4,579.8 L669.7,577.5 L675.0,575.2 L680.3,573.0 L685.5,570.7 L690.8,568.5 L696.1,566.3 L701.3,564.1 L706.6,562.0 L711.9,559.8 L717.2,557.7 L722.4,555.6 L727.7,553.5 L733.0,551.4 L738.3,549.3 L743.5,547.3 L748.8,545.3 L754.1,543.3 L759.3,541.3 L764.6,539.3 L769.9,537.4 L775.2,535.4 L780.4,533.5 L785.7,531.7 L791.0,529.8 L796.2,528.0 L801.5,526.1 L806.8,524.3 L812.1,522.6 L817.3,520.8 L822.6,519.1 L827.9,517.3 L833.2,515.6 L838.4,513.9 L843.7,512.3 L849.0,510.6 L854.2,509.0 L859.5,507.4 L864.8,505.8 L870.1,504.3 L875.3,502.7 L880.6,501.2 L885.9,499.6 L891.2,498.1 L896.4,496.7 L901.7,495.2 L907.0,493.7 L912.2,492.3 L917.5,490.9 L922.8,489.5 L928.1,488.1 L933.3,486.7 L938.6,485.4 L943.9,484.0 L949.2,482.7 L954.4,481.4 L959.7,480.1 L965.0,478.8 L970.2,477.6 L975.5,476.3 L980.8,475.1 L986.1,473.8 L991.3,472.6 L996.6,471.4 L1001.9,470.2 L1007.2,469.0 L1012.4,467.9 L1017.7,466.7 L1023.0,465.6 L1028.2,464.4 L1033.5,463.3 L1038.8,462.2 L1044.1,461.1 L1049.3,460.0 L1054.6,459.0 L1059.9,457.9 L1065.1,456.8 L1070.4,455.8 L1075.7,454.7 L1081.0,453.7 L1086.2,452.7 L1091.5,451.7 L1096.8,450.7 L1102.1,449.7 L1107.3,448.7 L1112.6,447.7 L1117.9,446.8 L1123.1,445.8 L1128.4,444.8 L1133.7,443.9 L1139.0,442.9 L1144.2,442.0 L1149.5,441.1 L1154.8,440.2 L1160.1,439.2 L1165.3,438.3 L1170.6,437.4 L1175.9,436.5 L1181.1,435.6 L1186.4,434.7 L1191.7,433.9 L1197.0,433.0 L1202.2,432.1 L1207.5,431.2 L1212.8,430.4 L1218.1,429.5 L1223.3,428.6 L1228.6,427.8 L1233.9,426.9 L1239.1,426.1 L1244.4,425.2 L1249.7,424.4 L1255.0,423.5 L1260.2,422.7 L1265.5,421.8 L1270.8,421.0 L1276.0,420.1 L1281.3,419.3 L1286.6,418.5 L1291.9,417.6 L1297.1,416.8 L1302.4,415.9 L1307.7,415.1 L1313.0,414.3 L1318.2,413.4 L1323.5,412.6 L1328.8,411.7 L1334.0,410.9 L1339.3,410.1 L1344.6,409.2 L1349.9,408.4 L1355.1,407.5 L1360.4,406.7 L1365.7,405.8 L1371.0,405.0 L1376.2,404.1 L1381.5,403.3 L1386.8,402.4 L1392.0,401.6 L1397.3,400.7 L1402.6,399.8 L1407.9,399.0 L1413.1,398.1 L1418.4,397.3 L1423.7,396.4 L1429.0,395.5 L1434.2,394.7 L1439.5,393.8 L1444.8,392.9 L1450.0,392.1 L1455.3,391.2 L1460.6,390.3 L1465.9,389.5 L1471.1,388.6 L1476.4,387.7 L1481.7,386.9 L1486.9,386.0 L1492.2,385.1 L1497.5,384.2 L1502.8,383.4 L1508.0,382.5 L1513.3,381.6 L1518.6,380.7 L1523.9,379.9 L1529.1,379.0 L1534.4,378.1 L1539.7,377.2 L1544.9,376.3 L1550.2,375.5 L1555.5,374.6 L1560.8,373.7 L1566.0,372.8 L1571.3,371.9 L1576.6,371.0 L1581.9,370.1 L1587.1,369.2 L1592.4,368.4 L1597.7,367.5 L1602.9,366.6 L1608.2,365.7 L1613.5,364.8 L1618.8,363.9 L1624.0,363.0 L1629.3,362.1 L1634.6,361.2 L1639.9,360.3 L1645.1,359.4 L1650.4,358.5 L1655.7,357.6 L1660.9,356.7 L1666.2,355.8 L1671.5,354.9 L1676.8,354.0 L1682.0,353.1 L1687.3,352.2 L1692.6,351.3 L1697.8,350.4 L1703.1,349.5 L1708.4,348.6 L1713.7,347.7 L1718.9,346.8 L1724.2,345.8 L1729.5,344.9 L1734.8,344.0 L1740.0,343.1 L1745.3,342.2 L1750.6,341.3 L1755.8,340.4 L1761.1,339.5 L1766.4,338.6 L1771.7,337.6 L1776.9,336.7 L1782.2,335.8 L1787.5,334.9 L1792.8,334.0 L1798.0,333.1 L1803.3,332.1 L1808.6,331.2 L1813.8,330.3 L1819.1,329.4 L1824.4,328.5 L1829.7,327.5 L1834.9,326.6 L1840.2,325.7 L1845.5,324.8 L1850.8,323.8 L1856.0,322.9 L1861.3,322.0 L1866.6,321.1 L1871.8,320.1 L1877.1,319.2 L1882.4,318.3 L1887.7,317.4 L1892.9,316.4 L1898.2,315.5 L1903.5,314.6 L1908.7,313.6 L1914.0,312.7 L1919.3,311.8 L1924.6,310.9 L1929.8,309.9 L1935.1,309.0 L1940.4,308.1 L1945.7,307.1 L1950.9,306.2 L1956.2,305.3 L1961.5,304.3 L1966.7,303.4 L1972.0,302.5 L1977.3,301.5 L1982.6,300.6 L1987.8,299.7 L1993.1,298.7 L1998.4,297.8 L2003.7,296.8 L2008.9,295.9 L2014.2,295.0 L2019.5,294.0 L2024.7,293.1 L2030.0,292.1 L2035.3,291.2 L2040.6,290.3 L2045.8,289.3 L2051.1,288.4 L2056.4,287.4 L2061.6,286.5 L2066.9,285.6 L2072.2,284.6 L2077.5,283.7 L2082.7,282.7 L2088.0,281.8 L2093.3,280.9 L2098.6,279.9 L2103.8,279.0 L2109.1,278.0 L2114.4,277.1 L2119.6,276.1 L2124.9,275.2 L2130.2,274.2 L2135.5,273.3 L2140.7,272.4 L2146.0,271.4 L2151.3,270.5 L2156.6,269.5 L2161.8,268.6 L2167.1,267.6 L2172.4,266.7 L2177.6,265.7 L2182.9,264.8 L2188.2,263.8 L2193.5,262.9 L2198.7,261.9 L2204.0,261.0 L2209.3,260.0 L2214.6,259.1 L2219.8,258.1 L2225.1,257.2 L2230.4,256.2 L2235.6,255.3 L2240.9,254.3 L2246.2,253.4 L2251.5,252.4 L2256.7,251.5 L2262.0,250.5 L2267.3,249.6 L2272.6,248.6 L2277.8,247.7 L2283.1,246.7 L2288.4,245.8 L2293.6,244.8 L2298.9,243.9 L2304.2,242.9 L2309.5,242.0 L2314.7,241.0 L2320.0,240.1 L2325.3,239.1 L2330.5,238.2 L2335.8,237.2 L2341.1,236.3 L2346.4,235.3 L2351.6,234.4 L2356.9,233.4 L2362.2,232.5 L2367.5,231.5 L2372.7,230.6 L2378.0,229.6" fill="none" stroke="#c44e00" stroke-width="14" stroke-linejoin="round"/>
<polygon points="242.2,796.3 295.8,796.3 269.0,750.0" fill="#c44e00" stroke="#c44e00" stroke-width="3" stroke-linejoin="round"/>
<polygon points="769.5,543.4 823.0,543.4 796.2,497.1" fill="#c44e00" stroke="#c44e00" stroke-width="3" stroke-linejoin="round"/>
<polygon points="1296.8,428.0 1350.2,428.0 1323.5,381.7" fill="#c44e00" stroke="#c44e00" stroke-width="3" stroke-linejoin="round"/>
<polygon points="2351.2,245.1 2404.8,245.1 2378.0,198.7" fill="#ee0000" stroke="#ee0000" stroke-width="3" stroke-linejoin="round"/>
</g>
<rect x="1210.5" y="657.5" width="427" height="640" fill="none" stroke="#fff" stroke-width="1" shape-rendering="crispEdges"/>
<g shape-rendering="crispEdges">
<path d="M1239.5,739.4 H1259 M1321.5,739.4 H1339.5" stroke="#000000" stroke-width="14.5" stroke-linecap="round" fill="none"/>
<polygon points="1263.7,724.0 1317.2,724.0 1290.4,770.3" fill="#000000" stroke="#000000" stroke-width="3" stroke-linejoin="round"/>
<path d="M1239.5,842.0 H1259 M1321.5,842.0 H1339.5" stroke="#ff0000" stroke-width="14.5" stroke-linecap="round" fill="none"/>
<polygon points="1305.8,815.2 1305.8,868.8 1259.5,842.0" fill="#ff0000" stroke="#ff0000" stroke-width="3" stroke-linejoin="round"/>
<path d="M1239.5,944.6 H1259 M1321.5,944.6 H1339.5" stroke="#0000ff" stroke-width="14.5" stroke-linecap="round" fill="none"/>
<polygon points="1275.0,917.9 1275.0,971.4 1321.3,944.6" fill="#0000ff" stroke="#0000ff" stroke-width="3" stroke-linejoin="round"/>
<path d="M1239.5,1047.2 H1259 M1321.5,1047.2 H1339.5" stroke="#00d68a" stroke-width="14.5" stroke-linecap="round" fill="none"/>
<rect x="1268.9" y="1025.45" width="43.0" height="43.5" fill="#00d68a"/>
<path d="M1239.5,1149.8 H1259 M1321.5,1149.8 H1339.5" stroke="#ff00ff" stroke-width="14.5" stroke-linecap="round" fill="none"/>
<circle cx="1290.4" cy="1149.8" r="23.5" fill="#ff00ff"/>
<path d="M1239.5,1252.4 H1259 M1321.5,1252.4 H1339.5" stroke="#c44e00" stroke-width="14.5" stroke-linecap="round" fill="none"/>
<polygon points="1263.7,1267.8 1317.2,1267.8 1290.4,1221.5" fill="#c44e00" stroke="#c44e00" stroke-width="3" stroke-linejoin="round"/>
</g>
<text transform="translate(1386.8,754.4) scale(1,1.02)" font-size="79.5">300°C</text>
<text transform="translate(1386.8,857.0) scale(1,1.02)" font-size="79.5">350°C</text>
<text transform="translate(1386.8,959.6) scale(1,1.02)" font-size="79.5">400°C</text>
<text transform="translate(1386.8,1062.2) scale(1,1.02)" font-size="79.5">450°C</text>
<text transform="translate(1386.8,1164.8) scale(1,1.02)" font-size="79.5">500°C</text>
<text transform="translate(1386.8,1267.4) scale(1,1.02)" font-size="79.5">550°C</text>
<text transform="translate(207.5,1717.0) scale(1,1.041)" font-size="88" text-anchor="end">0</text>
<text transform="translate(210.5,1569.1) scale(1,1.041)" font-size="88" text-anchor="end">1</text>
<text transform="translate(207.5,1421.2) scale(1,1.041)" font-size="88" text-anchor="end">2</text>
<text transform="translate(207.5,1273.3) scale(1,1.041)" font-size="88" text-anchor="end">3</text>
<text transform="translate(207.5,1125.4) scale(1,1.041)" font-size="88" text-anchor="end">4</text>
<text transform="translate(207.5,977.5) scale(1,1.041)" font-size="88" text-anchor="end">5</text>
<text transform="translate(207.5,829.5) scale(1,1.041)" font-size="88" text-anchor="end">6</text>
<text transform="translate(207.5,681.6) scale(1,1.041)" font-size="88" text-anchor="end">7</text>
<text transform="translate(207.5,533.7) scale(1,1.041)" font-size="88" text-anchor="end">8</text>
<text transform="translate(207.5,385.8) scale(1,1.041)" font-size="88" text-anchor="end">9</text>
<text transform="translate(161.6,237.9) scale(1,1.041)" font-size="88" text-anchor="end">1</text>
<text transform="translate(207.5,237.9) scale(1,1.041)" font-size="88" text-anchor="end">0</text>
<text transform="translate(210.5,90.0) scale(1,1.041)" font-size="88" text-anchor="end">11</text>
<text transform="translate(269.0,1822.0) scale(1,1.041)" font-size="88" text-anchor="middle">0.0</text>
<text transform="translate(796.2,1822.0) scale(1,1.041)" font-size="88" text-anchor="middle">0.5</text>
<text transform="translate(1323.5,1822.0) scale(1,1.041)" font-size="88" text-anchor="middle">1.0</text>
<text transform="translate(1850.8,1822.0) scale(1,1.041)" font-size="88" text-anchor="middle">1.5</text>
<text transform="translate(2378.0,1822.0) scale(1,1.041)" font-size="88" text-anchor="middle">2.0</text>
<text transform="translate(1323.5,1936.0) scale(1,1.041)" font-size="88" text-anchor="middle">P/V</text>
<g transform="translate(93,1202.5) rotate(-90)">
<text transform="translate(0.0,0.0) scale(1,1.041)" font-size="76">TOF</text>
<text transform="translate(153.0,24.0) scale(1,1.041)" font-size="53">propene</text>
<text transform="translate(375.0,0.0) scale(1,1.041)" font-size="76">(</text>
<text transform="translate(403.0,0.0) scale(1,1.041)" font-size="76">10</text>
<text transform="translate(488.0,-35.5) scale(1,1.041)" font-size="53">-3</text>
<text transform="translate(534.0,0.0) scale(1,1.041)" font-size="76">s</text>
<text transform="translate(579.0,-35.5) scale(1,1.041)" font-size="53">-1</text>
<text transform="translate(626.5,0.0) scale(1,1.041)" font-size="76">)</text>
</g>
</svg></body></html>
